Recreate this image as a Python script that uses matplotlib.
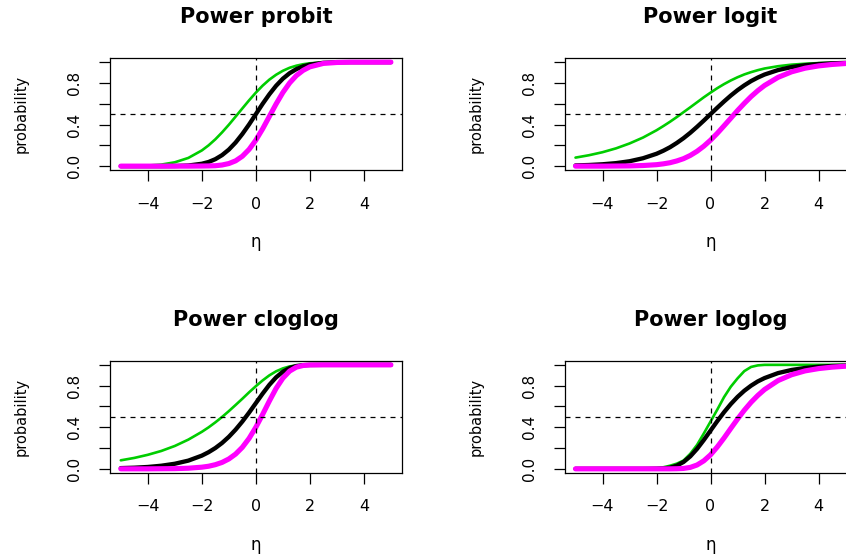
import matplotlib
matplotlib.use("Agg")
import matplotlib.pyplot as plt

plt.rcParams["font.family"] = ["DejaVu Sans"]

W, H = 846, 557

eta = [-5, -4.5, -4, -3.5, -3, -2.5, -2, -1.75, -1.5, -1.25, -1, -0.75, -0.5, -0.25,
       0, 0.25, 0.5, 0.75, 1, 1.25, 1.5, 1.75, 2, 2.5, 3, 3.5, 4, 4.5, 5]

# probit
probit_green = [0.001, 0.002, 0.006, 0.015, 0.037, 0.079, 0.151, 0.200, 0.258, 0.325, 0.398, 0.476, 0.555, 0.633,
                0.707, 0.774, 0.832, 0.879, 0.917, 0.946, 0.966, 0.980, 0.989, 0.997, 0.999, 1.000, 1.000, 1.000, 1.000]
probit_black = [0.000, 0.000, 0.000, 0.000, 0.001, 0.006, 0.023, 0.040, 0.067, 0.106, 0.159, 0.227, 0.309, 0.401,
                0.500, 0.599, 0.691, 0.773, 0.841, 0.894, 0.933, 0.960, 0.977, 0.994, 0.999, 1.000, 1.000, 1.000, 1.000]
probit_magenta = [0.000, 0.000, 0.000, 0.000, 0.000, 0.000, 0.001, 0.002, 0.004, 0.011, 0.025, 0.051, 0.095, 0.161,
                  0.250, 0.358, 0.478, 0.598, 0.708, 0.800, 0.871, 0.921, 0.955, 0.988, 0.997, 1.000, 1.000, 1.000, 1.000]

# logit
logit_green = [0.082, 0.105, 0.134, 0.171, 0.218, 0.275, 0.345, 0.385, 0.427, 0.472, 0.519, 0.566, 0.614, 0.662,
               0.707, 0.750, 0.789, 0.824, 0.855, 0.882, 0.904, 0.923, 0.939, 0.961, 0.976, 0.985, 0.991, 0.994, 0.997]
logit_black = [0.007, 0.011, 0.018, 0.029, 0.047, 0.076, 0.119, 0.148, 0.182, 0.223, 0.269, 0.321, 0.378, 0.438,
               0.500, 0.562, 0.622, 0.679, 0.731, 0.777, 0.818, 0.852, 0.881, 0.924, 0.953, 0.971, 0.982, 0.989, 0.993]
logit_magenta = [0.000, 0.000, 0.000, 0.001, 0.002, 0.006, 0.014, 0.022, 0.033, 0.050, 0.072, 0.103, 0.143, 0.192,
                 0.250, 0.316, 0.388, 0.461, 0.535, 0.604, 0.669, 0.726, 0.776, 0.854, 0.907, 0.942, 0.964, 0.978, 0.987]

# cloglog
cloglog_green = [0.082, 0.105, 0.135, 0.172, 0.220, 0.281, 0.356, 0.399, 0.447, 0.499, 0.555, 0.614, 0.674, 0.736,
                 0.795, 0.850, 0.899, 0.938, 0.966, 0.985, 0.994, 0.998, 1.000, 1.000, 1.000, 1.000, 1.000, 1.000, 1.000]
cloglog_black = [0.007, 0.011, 0.018, 0.030, 0.049, 0.079, 0.127, 0.160, 0.200, 0.249, 0.308, 0.377, 0.455, 0.541,
                 0.632, 0.723, 0.808, 0.880, 0.934, 0.970, 0.989, 0.997, 0.999, 1.000, 1.000, 1.000, 1.000, 1.000, 1.000]
cloglog_magenta = [0.000, 0.000, 0.000, 0.001, 0.002, 0.006, 0.016, 0.025, 0.040, 0.062, 0.095, 0.142, 0.207, 0.293,
                   0.400, 0.523, 0.652, 0.774, 0.872, 0.940, 0.978, 0.994, 0.999, 1.000, 1.000, 1.000, 1.000, 1.000, 1.000]

# loglog
loglog_green = [0.000, 0.000, 0.000, 0.000, 0.001, 0.003, 0.008, 0.015, 0.030, 0.050, 0.080, 0.145, 0.230, 0.340,
                0.455, 0.570, 0.690, 0.790, 0.870, 0.940, 0.980, 0.995, 1.000, 1.000, 1.000, 1.000, 1.000, 1.000, 1.000]
loglog_black = [0.000, 0.000, 0.000, 0.000, 0.000, 0.000, 0.001, 0.003, 0.011, 0.031, 0.066, 0.120, 0.192, 0.277,
                0.368, 0.459, 0.545, 0.623, 0.692, 0.751, 0.800, 0.841, 0.873, 0.921, 0.951, 0.970, 0.982, 0.989, 0.993]
loglog_magenta = [0.000, 0.000, 0.000, 0.000, 0.000, 0.000, 0.000, 0.000, 0.000, 0.001, 0.004, 0.014, 0.037, 0.077,
                  0.135, 0.211, 0.297, 0.389, 0.479, 0.564, 0.640, 0.706, 0.763, 0.849, 0.905, 0.942, 0.964, 0.978, 0.987]

titles = ["Power probit", "Power logit", "Power cloglog", "Power loglog"]
panels = [
    (probit_green, probit_black, probit_magenta),
    (logit_green, logit_black, logit_magenta),
    (cloglog_green, cloglog_black, cloglog_magenta),
    (loglog_green, loglog_black, loglog_magenta),
]

# axes boxes in pixels: left, top
boxes = [(110, 58), (564.7, 58), (110, 360.7), (564.7, 360.7)]
box_w, box_h = 291.7, 112.3

fig = plt.figure(figsize=(W / 100, H / 100), dpi=100)

for (left, top), title, (g, k, m) in zip(boxes, titles, panels):
    ax = fig.add_axes([left / W, (H - top - box_h) / H, box_w / W, box_h / H])
    ax.plot(eta, g, color="#00CD00", lw=1.9, solid_capstyle="round")
    ax.plot(eta, k, color="black", lw=3.1, solid_capstyle="round")
    ax.plot(eta, m, color="#FF00FF", lw=3.7, solid_capstyle="round")
    ax.axhline(0.5, color="black", lw=0.9, linestyle=(0, (4, 4)))
    ax.axvline(0, color="black", lw=0.9, linestyle=(0, (4, 4)))
    ax.set_xlim(-5.4, 5.4)
    ax.set_ylim(-0.04, 1.04)
    ax.set_xticks([-4, -2, 0, 2, 4])
    ax.set_yticks([0, 0.2, 0.4, 0.6, 0.8, 1.0])
    ax.set_yticklabels(["0.0", "", "0.4", "", "0.8", ""])
    ax.tick_params(axis="both", length=8, width=0.9, color="black")
    ax.tick_params(axis="x", pad=11, labelsize=11.5)
    ax.tick_params(axis="y", pad=12, labelsize=11)
    for lab in ax.get_yticklabels():
        lab.set_rotation(90)
        lab.set_va("center")
    for sp in ax.spines.values():
        sp.set_linewidth(0.9)

    cx = left + box_w / 2
    fig.text(cx / W, 1 - (top - 41) / H, title, ha="center", va="center",
             fontsize=15, fontweight="bold")
    fig.text(cx / W, 1 - (top + box_h + 72) / H, "\u03b7", ha="center", va="center",
             fontsize=12)
    fig.text((left - 89) / W, 1 - (top + box_h / 2) / H, "probability", ha="center",
             va="center", rotation=90, fontsize=10.5)

fig.savefig("out.png", dpi=100)
